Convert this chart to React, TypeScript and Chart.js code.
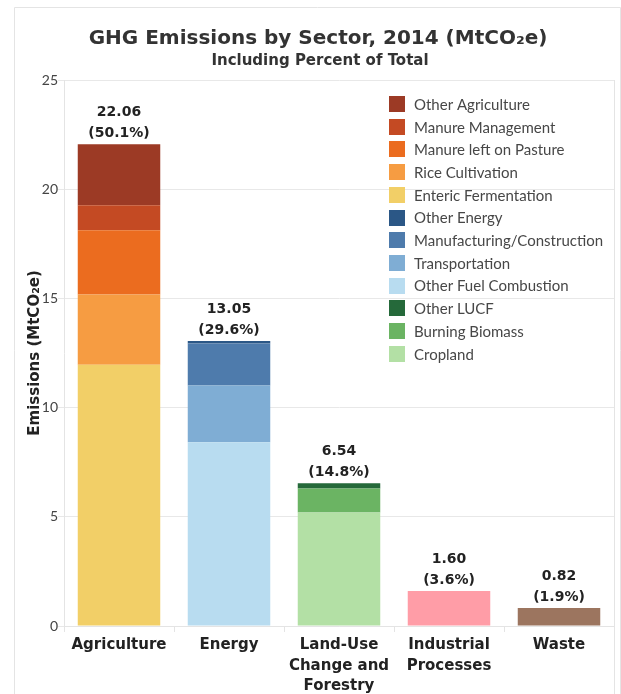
import React, { useEffect, useRef } from "react";
import { Chart, registerables } from "chart.js";

Chart.register(...registerables);

// ---- Data ----
const sectors: (string | string[])[] = [
  "Agriculture",
  "Energy",
  ["Land-Use", "Change and", "Forestry"],
  ["Industrial", "Processes"],
  "Waste",
];

// Subsectors listed bottom-up within each stacked bar
const subsectorNames = [
  "Enteric Fermentation",
  "Rice Cultivation",
  "Manure left on Pasture",
  "Manure Management",
  "Other Agriculture",
  "Other Fuel Combustion",
  "Transportation",
  "Manufacturing/Construction",
  "Other Energy",
  "Cropland",
  "Burning Biomass",
  "Other LUCF",
  "Industrial Processes",
  "Waste",
];
const subsectorSector = [0, 0, 0, 0, 0, 1, 1, 1, 1, 2, 2, 2, 3, 4];
const subsectorValues = [
  11.96, 3.22, 2.94, 1.15, 2.79,
  8.41, 2.6, 1.93, 0.11,
  5.2, 1.1, 0.24,
  1.6,
  0.82,
];
const subsectorColors = [
  "#f2cf67",
  "#f69c42",
  "#eb6c1f",
  "#c44a23",
  "#9c3a25",
  "#b8dcf0",
  "#7fadd4",
  "#4e7bac",
  "#2b5786",
  "#b3e0a5",
  "#6bb463",
  "#25693a",
  "#ff9da7",
  "#9c755f",
];
const legendCount = 12; // subsectors of the first three sectors appear in the legend

const totalLabels = ["22.06", "13.05", "6.54", "1.60", "0.82"];
const percentLabels = ["(50.1%)", "(29.6%)", "(14.8%)", "(3.6%)", "(1.9%)"];

const yTicks = [0, 5, 10, 15, 20, 25];

const titleText = "GHG Emissions by Sector, 2014 (MtCO\u2082e)";
const subtitleText = "Including Percent of Total";
const yTitleText = "Emissions (MtCO\u2082e)";

const FONT = "Lato, 'Open Sans', sans-serif";
const BOLD = "'DejaVu Sans', Lato, sans-serif";

export default function App() {
  const ref = useRef<HTMLCanvasElement>(null);

  useEffect(() => {
    const canvas = ref.current;
    if (!canvas) return;

    const datasets = subsectorNames.map((name, i) => ({
      label: name,
      data: sectors.map((_, s) => (s === subsectorSector[i] ? subsectorValues[i] : null)),
      backgroundColor: subsectorColors[i],
      borderWidth: 0,
      stack: "s",
      barPercentage: 0.75,
      categoryPercentage: 1,
    }));

    // legend order: within each sector, top of stack first
    const legendOrder: number[] = [];
    for (let s = 0; s < 3; s++) {
      const idx = subsectorNames.map((_, i) => i).filter((i) => subsectorSector[i] === s);
      idx.reverse().forEach((i) => legendOrder.push(i));
    }

    const decorPlugin = {
      id: "decor",
      beforeDraw(chart: any) {
        const ctx = chart.ctx;
        const area = chart.chartArea;
        ctx.save();
        ctx.fillStyle = "#ffffff";
        ctx.fillRect(0, 0, chart.width, chart.height);
        ctx.strokeStyle = "#e4e4e4";
        ctx.lineWidth = 1;
        // outer frame
        ctx.beginPath();
        ctx.moveTo(14.5, chart.height);
        ctx.lineTo(14.5, 7.5);
        ctx.lineTo(620.5, 7.5);
        ctx.lineTo(620.5, chart.height);
        ctx.stroke();
        // right plot border
        ctx.beginPath();
        ctx.moveTo(Math.round(area.right) + 0.5, area.top);
        ctx.lineTo(Math.round(area.right) + 0.5, chart.height);
        ctx.stroke();
        // titles
        ctx.fillStyle = "#333333";
        ctx.textAlign = "center";
        ctx.textBaseline = "middle";
        ctx.font = `bold 20px ${BOLD}`;
        ctx.fillText(titleText, 318, 39);
        ctx.font = `bold 15px ${BOLD}`;
        ctx.fillText(subtitleText, 320, 61);
        ctx.restore();
      },
      afterDatasetsDraw(chart: any) {
        const ctx = chart.ctx;
        const area = chart.chartArea;
        const xs = chart.scales.x;
        const ys = chart.scales.y;
        ctx.save();
        // value labels
        ctx.fillStyle = "#222222";
        ctx.textAlign = "center";
        ctx.textBaseline = "middle";
        ctx.font = `bold 14px ${BOLD}`;
        sectors.forEach((_, s) => {
          let total = 0;
          subsectorValues.forEach((v, i) => {
            if (subsectorSector[i] === s) total += v;
          });
          const x = xs.getPixelForValue(s);
          const y = ys.getPixelForValue(total);
          ctx.fillText(totalLabels[s], x, y - 32);
          ctx.fillText(percentLabels[s], x, y - 11);
        });
        // legend
        const lx = area.right - 225;
        const ly = area.top + 24;
        ctx.textAlign = "left";
        ctx.font = `15px ${FONT}`;
        legendOrder.slice(0, legendCount).forEach((i, r) => {
          const cy = ly + r * 22.7;
          ctx.fillStyle = subsectorColors[i];
          ctx.fillRect(lx, Math.round(cy - 8), 16, 16);
          ctx.fillStyle = "#474747";
          ctx.fillText(subsectorNames[i], lx + 25, cy + 1);
        });
        ctx.restore();
      },
    };

    const chart = new Chart(canvas, {
      type: "bar",
      data: { labels: sectors as any, datasets: datasets as any },
      options: {
        responsive: false,
        animation: false,
        devicePixelRatio: 1,
        layout: { padding: { top: 80, right: 7, left: 0, bottom: 0 } },
        plugins: {
          legend: { display: false },
          title: { display: false },
          tooltip: { enabled: false },
        },
        scales: {
          x: {
            stacked: true,
            afterFit(scale: any) {
              scale.height = 68;
            },
            grid: {
              drawOnChartArea: false,
              drawTicks: true,
              tickLength: 6,
              color: "#e4e4e4",
              offset: true,
            },
            border: { display: true, color: "#e4e4e4" },
            ticks: {
              color: "#222222",
              padding: 3,
              maxRotation: 0,
              autoSkip: false,
              font: { family: BOLD, size: 15, weight: "bold", lineHeight: 1.37 },
            },
          },
          y: {
            stacked: true,
            min: 0,
            max: 25,
            afterFit(scale: any) {
              scale.width = 64;
            },
            afterBuildTicks(scale: any) {
              scale.ticks = yTicks.map((v) => ({ value: v }));
            },
            grid: {
              color: "#e8e8e8",
              drawTicks: true,
              tickLength: 6,
            },
            border: { display: true, color: "#e4e4e4" },
            ticks: {
              color: "#444444",
              padding: 0,
              font: { family: FONT, size: 14 },
            },
            title: {
              display: true,
              text: yTitleText,
              color: "#222222",
              padding: { top: 26.6, bottom: 0 },
              font: { family: BOLD, size: 15, weight: "bold", lineHeight: 1.2 },
            },
          },
        },
      },
      plugins: [decorPlugin],
    } as any);

    return () => chart.destroy();
  }, []);

  return (
    <div style={{ position: "absolute", left: 0, top: 0, width: 621, height: 694 }}>
      <canvas ref={ref} width={621} height={694} style={{ display: "block" }} />
    </div>
  );
}
